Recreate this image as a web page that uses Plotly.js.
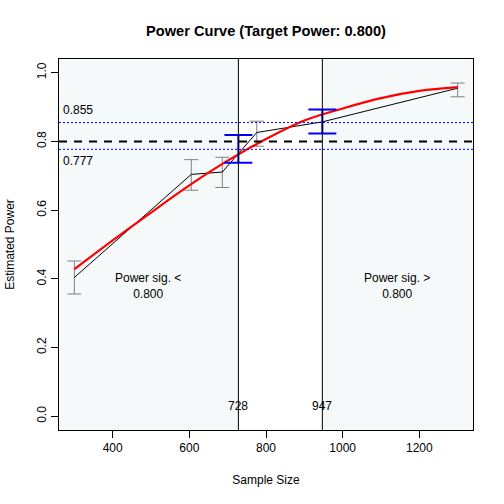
<!DOCTYPE html>
<html>
<head>
<meta charset="utf-8">
<script src="https://cdn.plot.ly/plotly-3.0.1.min.js"></script>
<style>
  html, body { margin: 0; padding: 0; background: #fff; }
  #chart { width: 504px; height: 504px; }
</style>
</head>
<body>
<div id="chart"></div>
<script>
/* Power curve: simulated power with CIs, smoothed fit, target cutoffs */

// simulated points (black line + gray CIs)
const sampleN = [300, 605, 686, 776, 947, 1300];
const simPower = [0.404, 0.704, 0.711, 0.826, 0.857, 0.955];
const simLower = [0.356, 0.658, 0.666, 0.786, 0.823, 0.930];
const simUpper = [0.452, 0.747, 0.754, 0.859, 0.892, 0.970];

// smoothed fit (red)
const fitN = [300, 400, 500, 600, 700, 800, 900, 1000, 1100, 1200, 1300];
const fitPower = [0.428, 0.512, 0.593, 0.672, 0.744, 0.807, 0.861, 0.896, 0.926, 0.947, 0.958];

// cutoff sample sizes with CIs (blue)
const cutoffN = [728, 947];
const cutoffPower = [0.778, 0.858];
const cutoffLower = [0.738, 0.823];
const cutoffUpper = [0.819, 0.893];

// reference levels
const targetPower = 0.800;
const bandLevels = [0.855, 0.777];
const xTicks = [400, 600, 800, 1000, 1200];
const yTicks = [0, 0.2, 0.4, 0.6, 0.8, 1.0];

const FONT = 'Liberation Sans, Arial, sans-serif';

const xSpan = Math.max(...sampleN) - Math.min(...sampleN);
const xRange = [Math.min(...sampleN) - 0.04 * xSpan, Math.max(...sampleN) + 0.04 * xSpan];

const traces = [
    {
        x: sampleN,
        y: simPower,
        type: 'scatter',
        mode: 'lines',
        line: { color: '#000', width: 1 },
        error_y: {
            type: 'data',
            symmetric: false,
            array: simUpper.map((u, i) => u - simPower[i]),
            arrayminus: simPower.map((p, i) => p - simLower[i]),
            color: '#808080',
            thickness: 1,
            width: 7,
        },
        hoverinfo: 'skip',
    },
    {
        x: fitN,
        y: fitPower,
        type: 'scatter',
        mode: 'lines',
        line: { color: '#FF0000', width: 2.2, shape: 'spline' },
        hoverinfo: 'skip',
    },
    {
        x: cutoffN,
        y: cutoffPower,
        type: 'scatter',
        mode: 'markers',
        marker: { size: 1, color: 'rgba(0,0,0,0)' },
        error_y: {
            type: 'data',
            symmetric: false,
            array: cutoffUpper.map((u, i) => u - cutoffPower[i]),
            arrayminus: cutoffPower.map((p, i) => p - cutoffLower[i]),
            color: '#0000FF',
            thickness: 2,
            width: 14,
        },
        hoverinfo: 'skip',
    },
];

const shapes = [
    // shaded regions outside the cutoffs
    { type: 'rect', xref: 'x', yref: 'paper', x0: xRange[0], x1: cutoffN[0], y0: 0, y1: 1,
      fillcolor: '#F5F9FA', line: { width: 0 }, layer: 'below' },
    { type: 'rect', xref: 'x', yref: 'paper', x0: cutoffN[1], x1: xRange[1], y0: 0, y1: 1,
      fillcolor: '#F5F9FA', line: { width: 0 }, layer: 'below' },
    // cutoff verticals
    ...cutoffN.map(n => ({ type: 'line', xref: 'x', yref: 'paper', x0: n, x1: n, y0: 0, y1: 1,
      line: { color: '#000', width: 1 } })),
    // target line
    { type: 'line', xref: 'paper', yref: 'y', x0: 0, x1: 1, y0: targetPower, y1: targetPower,
      line: { color: '#000', width: 2, dash: '8px,7px' } },
    // band lines
    ...bandLevels.map(v => ({ type: 'line', xref: 'paper', yref: 'y', x0: 0, x1: 1, y0: v, y1: v,
      line: { color: '#0000FF', width: 1, dash: '2px,2px' } })),
];

const annoFont = { family: FONT, size: 12, color: '#000' };
const annotations = [
    { xref: 'paper', yref: 'y', x: 0.004, y: bandLevels[0], xanchor: 'left', yanchor: 'bottom',
      yshift: 4, text: bandLevels[0].toFixed(3), showarrow: false, font: annoFont },
    { xref: 'paper', yref: 'y', x: 0.004, y: bandLevels[1], xanchor: 'left', yanchor: 'top',
      yshift: -3, text: bandLevels[1].toFixed(3), showarrow: false, font: annoFont },
    { x: 492, y: 0.378, text: 'Power sig. &lt;<br>' + targetPower.toFixed(3),
      showarrow: false, font: annoFont, align: 'center' },
    { x: 1141, y: 0.378, text: 'Power sig. &gt;<br>' + targetPower.toFixed(3),
      showarrow: false, font: annoFont, align: 'center' },
    ...cutoffN.map(n => ({ x: n, y: 0.031, text: String(n), showarrow: false, font: annoFont })),
];

const axisCommon = {
    showgrid: false,
    zeroline: false,
    showline: true,
    mirror: true,
    linecolor: '#000',
    linewidth: 1,
    ticks: 'outside',
    ticklen: 7,
    tickcolor: '#000',
    tickfont: { family: FONT, size: 12, color: '#000' },
};

const layout = {
    width: 504,
    height: 504,
    margin: { l: 59, r: 31, t: 59, b: 74 },
    paper_bgcolor: '#fff',
    plot_bgcolor: '#fff',
    showlegend: false,
    title: {
        text: '<b>Power Curve (Target Power: ' + targetPower.toFixed(3) + ')</b>',
        font: { family: FONT, size: 14.6, color: '#000' },
        x: 0.5, xref: 'paper', y: 0.938, yref: 'container', yanchor: 'middle',
    },
    xaxis: {
        ...axisCommon,
        range: xRange,
        tickvals: xTicks,
        title: { text: 'Sample Size', font: { family: FONT, size: 12, color: '#000' }, standoff: 21 },
    },
    yaxis: {
        ...axisCommon,
        range: [-0.04, 1.04],
        tickvals: yTicks,
        ticktext: yTicks.map(v => v.toFixed(1)),
        tickangle: -90,
        title: { text: 'Estimated Power', font: { family: FONT, size: 12, color: '#000' }, standoff: 18 },
    },
    shapes: shapes,
    annotations: annotations,
};

Plotly.newPlot('chart', traces, layout, { staticPlot: true, displayModeBar: false });
</script>
</body>
</html>
